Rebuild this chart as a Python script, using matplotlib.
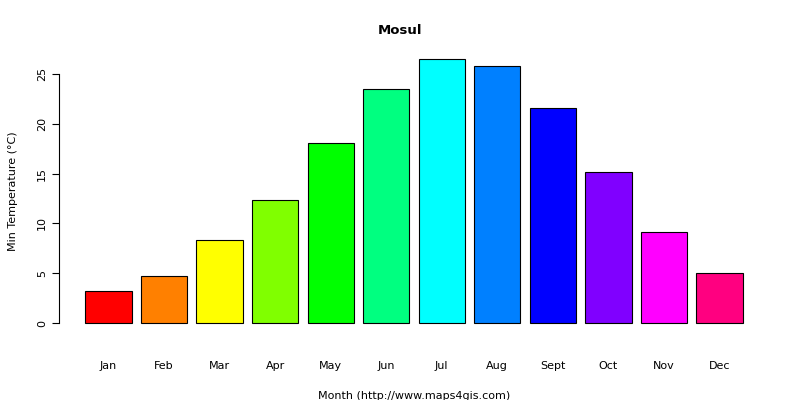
import matplotlib
matplotlib.use("Agg")
import matplotlib.pyplot as plt

months = ["Jan","Feb","Mar","Apr","May","Jun","Jul","Aug","Sept","Oct","Nov","Dec"]
values = [3.2, 4.7, 8.3, 12.35, 18.1, 23.5, 26.5, 25.8, 21.6, 15.2, 9.1, 5.0]
colors = ["#FF0000","#FF8000","#FFFF00","#80FF00","#00FF00","#00FF80",
          "#00FFFF","#0080FF","#0000FF","#8000FF","#FF00FF","#FF0080"]

W, H = 800, 400
fig = plt.figure(figsize=(8, 4), dpi=100)
l, r, t, b = 59, 769, 48.5, 333.6
ax = fig.add_axes([l/W, 1-b/H, (r-l)/W, (b-t)/H])
x = [0.7 + 1.2*i for i in range(len(values))]
ax.bar(x, values, width=1, color=colors, edgecolor="black", linewidth=0.8)
ax.set_xlim(-0.368, 14.968)
ax.set_ylim(-1.06, 27.56)
for s in ["top","right","bottom"]:
    ax.spines[s].set_visible(False)
ax.spines["left"].set_bounds(0, 25)
ax.set_yticks([0,5,10,15,20,25])
ax.set_yticklabels(["0","5","10","15","20","25"], rotation=90, va="center", fontsize=8)
ax.set_xticks(x)
ax.set_xticklabels(months, fontsize=8)
ax.tick_params(axis="x", length=0, pad=20)
ax.tick_params(axis="y", length=5)
ax.set_xlabel("Month (http://www.maps4gis.com)", fontsize=8, labelpad=14)
ax.set_ylabel("Min Temperature (°C)", fontsize=8, labelpad=14)
fig.text(0.5, 1-31/H, "Mosul", ha="center", va="center", fontsize=9.5, fontweight="bold")
fig.savefig("out.png", dpi=100)
